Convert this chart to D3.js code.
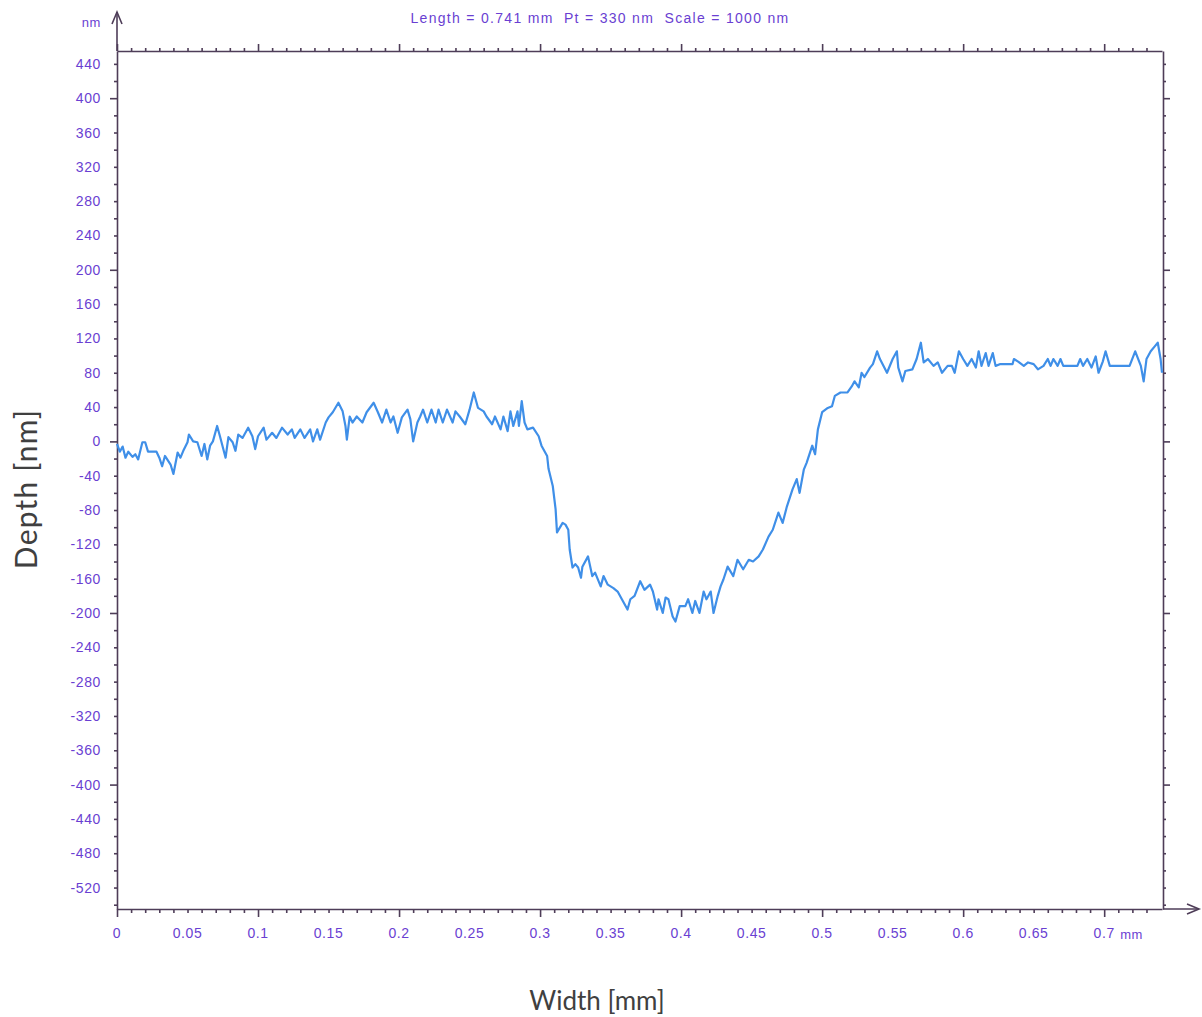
<!DOCTYPE html>
<html>
<head>
<meta charset="utf-8">
<script src="https://cdn.jsdelivr.net/npm/d3@7"></script>
<style>
    body { margin: 0; background: #fff; }
    .tick-label { font-family: "Liberation Sans", Arial, sans-serif; font-size: 14px; fill: #6a3fd2; letter-spacing: 0.6px; }
    .axis-title { font-family: Lato, "Open Sans", sans-serif; fill: #404040; }
</style>
</head>
<body>
<svg id="chart"></svg>
<script>
// Profile: width in mm, depth in nm
let widthMm = [0.000, 0.002, 0.004, 0.006, 0.008, 0.011, 0.013, 0.015, 0.018, 0.020,
    0.022, 0.028, 0.030, 0.032, 0.034, 0.038, 0.040, 0.043, 0.045, 0.047,
    0.050, 0.051, 0.054, 0.057, 0.060, 0.062, 0.064, 0.066, 0.068, 0.071,
    0.073, 0.077, 0.079, 0.082, 0.084, 0.086, 0.089, 0.093, 0.096, 0.098,
    0.100, 0.104, 0.106, 0.110, 0.113, 0.117, 0.121, 0.124, 0.126, 0.130,
    0.133, 0.137, 0.139, 0.142, 0.144, 0.148, 0.150, 0.153, 0.157, 0.160,
    0.162, 0.163, 0.165, 0.167, 0.170, 0.174, 0.177, 0.182, 0.185, 0.188,
    0.191, 0.194, 0.196, 0.199, 0.202, 0.206, 0.208, 0.210, 0.213, 0.215,
    0.217, 0.220, 0.223, 0.226, 0.228, 0.231, 0.234, 0.238, 0.240, 0.243,
    0.247, 0.250, 0.253, 0.256, 0.260, 0.262, 0.266, 0.268, 0.272, 0.274,
    0.277, 0.279, 0.281, 0.284, 0.285, 0.287, 0.289, 0.291, 0.295, 0.299,
    0.301, 0.305, 0.306, 0.309, 0.311, 0.312, 0.316, 0.318, 0.320, 0.321,
    0.323, 0.325, 0.327, 0.329, 0.330, 0.334, 0.337, 0.339, 0.343, 0.345,
    0.348, 0.352, 0.355, 0.358, 0.362, 0.364, 0.367, 0.371, 0.374, 0.378,
    0.380, 0.383, 0.384, 0.387, 0.389, 0.391, 0.394, 0.396, 0.399, 0.403,
    0.405, 0.408, 0.410, 0.413, 0.416, 0.418, 0.421, 0.423, 0.426, 0.428,
    0.430, 0.433, 0.437, 0.440, 0.444, 0.448, 0.451, 0.455, 0.458, 0.462,
    0.465, 0.469, 0.472, 0.475, 0.479, 0.482, 0.484, 0.487, 0.489, 0.493,
    0.495, 0.497, 0.500, 0.504, 0.507, 0.509, 0.513, 0.518, 0.521, 0.523,
    0.526, 0.528, 0.530, 0.534, 0.536, 0.539, 0.541, 0.546, 0.550, 0.553,
    0.554, 0.557, 0.559, 0.564, 0.567, 0.570, 0.572, 0.575, 0.579, 0.582,
    0.585, 0.589, 0.592, 0.594, 0.597, 0.600, 0.603, 0.606, 0.609, 0.611,
    0.613, 0.616, 0.618, 0.621, 0.623, 0.626, 0.635, 0.636, 0.639, 0.643,
    0.646, 0.650, 0.653, 0.657, 0.660, 0.662, 0.664, 0.667, 0.669, 0.671,
    0.681, 0.683, 0.685, 0.688, 0.691, 0.694, 0.696, 0.699, 0.701, 0.704,
    0.718, 0.722, 0.726, 0.728, 0.730, 0.733, 0.736, 0.738, 0.740, 0.741];

let depthNm = [-3, -12, -6, -19, -12, -18, -15, -21, -1, -1,
    -12, -12, -19, -29, -17, -27, -38, -13, -19, -11,
    -1, 8, 0, -1, -17, -3, -21, -5, 0, 18,
    6, -19, 5, -1, -11, 8, 4, 16, 6, -9,
    6, 16, 2, 10, 4, 16, 8, 14, 4, 14,
    4, 14, 0, 14, 2, 22, 28, 34, 45, 35,
    18, 2, 29, 22, 29, 22, 34, 45, 34, 22,
    37, 22, 29, 10, 28, 37, 26, 0, 22, 29,
    37, 22, 37, 22, 37, 22, 37, 22, 35, 29,
    20, 37, 57, 39, 35, 29, 20, 29, 14, 29,
    12, 35, 18, 35, 18, 47, 22, 14, 16, 6,
    -5, -17, -32, -52, -79, -106, -95, -97, -103, -126,
    -147, -143, -147, -159, -146, -134, -157, -153, -169, -157,
    -167, -171, -175, -184, -196, -184, -180, -163, -173, -167,
    -175, -196, -184, -200, -182, -184, -204, -210, -192, -192,
    -184, -200, -186, -200, -175, -184, -175, -200, -180, -169,
    -161, -146, -157, -138, -149, -138, -140, -134, -126, -111,
    -103, -83, -95, -76, -56, -44, -60, -33, -25, -5,
    -15, 14, 34, 39, 41, 53, 57, 57, 64, 70,
    63, 80, 75, 86, 90, 105, 96, 80, 96, 105,
    86, 70, 82, 84, 96, 115, 92, 96, 88, 92,
    80, 88, 88, 80, 105, 96, 88, 96, 86, 105,
    88, 103, 88, 103, 88, 90, 90, 96, 93, 88,
    92, 90, 84, 88, 96, 88, 96, 88, 96, 88,
    88, 96, 88, 96, 86, 99, 80, 93, 105, 88,
    88, 105, 88, 70, 96, 105, 111, 115, 96, 80];

// Tick labels
let xTickValues = [0, 0.05, 0.1, 0.15, 0.2, 0.25, 0.3, 0.35, 0.4, 0.45, 0.5, 0.55, 0.6, 0.65, 0.7];
let yTickValues = [440, 400, 360, 320, 280, 240, 200, 160, 120, 80, 40, 0, -40, -80, -120,
    -160, -200, -240, -280, -320, -360, -400, -440, -480, -520];

let titleText = "Length = 0.741 mm  Pt = 330 nm  Scale = 1000 nm";

let config = {
    svg: { width: 1202, height: 1017 },
    plot: { left: 117, right: 1163, top: 51, bottom: 909 }
};
let scales = {};
let axisColor = "#4e3d58";

function translate(x, y) {
    return 'translate(' + x + ',' + y + ')';
}

let svg = d3.select("#chart")
    .attr("width", config.svg.width)
    .attr("height", config.svg.height);

scales.x = d3.scaleLinear()
    .domain([0, 0.741])
    .range([config.plot.left, config.plot.right - 1]);

scales.y = d3.scaleLinear()
    .domain([-545, 455])
    .range([config.plot.bottom, config.plot.top]);

// minor ticks for the frame
let xMinor = d3.range(0, 74).map(i => i / 100);
let yMinor = d3.range(-540, 460, 20);

let isMajorX = d => Math.abs(d * 10 - Math.round(d * 10)) < 1e-6;
let isMajorY = d => d % 200 === 0;

// Bottom axis
let bottomG = svg.append("g")
    .attr("transform", translate(0, config.plot.bottom))
    .call(d3.axisBottom(scales.x).tickValues(xMinor).tickFormat("").tickSizeOuter(0));
bottomG.selectAll(".tick line").attr("y2", d => isMajorX(d) ? 8 : 4);

// Top frame
let topG = svg.append("g")
    .attr("transform", translate(0, config.plot.top))
    .call(d3.axisTop(scales.x).tickValues(xMinor).tickFormat("").tickSizeOuter(0));
topG.selectAll(".tick line").attr("y2", d => isMajorX(d) ? -7 : -3);

// Left axis
let leftG = svg.append("g")
    .attr("transform", translate(config.plot.left, 0))
    .call(d3.axisLeft(scales.y).tickValues(yMinor).tickFormat("").tickSizeOuter(0));
leftG.selectAll(".tick line").attr("x2", d => isMajorY(d) ? -7 : -3);

// Right frame
let rightG = svg.append("g")
    .attr("transform", translate(config.plot.right, 0))
    .call(d3.axisRight(scales.y).tickValues(yMinor).tickFormat("").tickSizeOuter(0));
rightG.selectAll(".tick line").attr("x2", d => isMajorY(d) ? 7 : 3);

svg.selectAll(".domain, .tick line")
    .attr("stroke", axisColor)
    .attr("stroke-width", 1.6);

// Tick labels
svg.append("g").selectAll("text")
    .data(xTickValues)
    .enter().append("text")
    .attr("class", "tick-label")
    .attr("x", d => scales.x(d))
    .attr("y", config.plot.bottom + 29)
    .attr("text-anchor", "middle")
    .text(d => d);

svg.append("g").selectAll("text")
    .data(yTickValues)
    .enter().append("text")
    .attr("class", "tick-label")
    .attr("x", config.plot.left - 16)
    .attr("y", d => scales.y(d) + 5)
    .attr("text-anchor", "end")
    .text(d => d);

svg.append("text")
    .attr("class", "tick-label")
    .attr("x", scales.x(0.7) + 16)
    .attr("y", config.plot.bottom + 30)
    .style("font-size", "13px")
    .text("mm");

svg.append("text")
    .attr("class", "tick-label")
    .attr("x", 101)
    .attr("y", 27)
    .attr("text-anchor", "end")
    .style("font-size", "13px")
    .text("nm");

// Arrows
let arrows = svg.append("g")
    .attr("stroke", axisColor)
    .attr("stroke-width", 1.6)
    .attr("fill", "none");
arrows.append("line")
    .attr("x1", config.plot.left).attr("y1", config.plot.top)
    .attr("x2", config.plot.left).attr("y2", 12);
arrows.append("path")
    .attr("d", "M" + (config.plot.left - 5) + ",24 L" + config.plot.left + ",12 L" + (config.plot.left + 5) + ",24");
arrows.append("line")
    .attr("x1", config.plot.right).attr("y1", config.plot.bottom)
    .attr("x2", 1199).attr("y2", config.plot.bottom);
arrows.append("path")
    .attr("d", "M1187," + (config.plot.bottom - 5) + " L1199," + config.plot.bottom + " L1187," + (config.plot.bottom + 5));

// Title
svg.append("text")
    .attr("class", "tick-label")
    .attr("x", 600)
    .attr("y", 23)
    .attr("text-anchor", "middle")
    .style("white-space", "pre")
    .style("letter-spacing", "1.3px")
    .text(titleText);

// Axis titles
svg.append("text")
    .attr("class", "axis-title")
    .attr("transform", translate(37, 489) + " rotate(-90)")
    .attr("text-anchor", "middle")
    .style("font-size", "30px")
    .style("letter-spacing", "1.2px")
    .text("Depth [nm]");

svg.append("text")
    .attr("class", "axis-title")
    .attr("x", 597)
    .attr("y", 1010)
    .attr("text-anchor", "middle")
    .style("font-size", "26px")
    .text("Width [mm]");

// Profile line
let profile = widthMm.map((w, i) => ({ w: w, d: depthNm[i] }));
let line = d3.line()
    .x(p => scales.x(p.w))
    .y(p => scales.y(p.d));

svg.append("path")
    .datum(profile)
    .attr("d", line)
    .attr("fill", "none")
    .attr("stroke", "#3f8fe8")
    .attr("stroke-width", 2.2)
    .attr("stroke-linejoin", "round");
</script>
</body>
</html>
